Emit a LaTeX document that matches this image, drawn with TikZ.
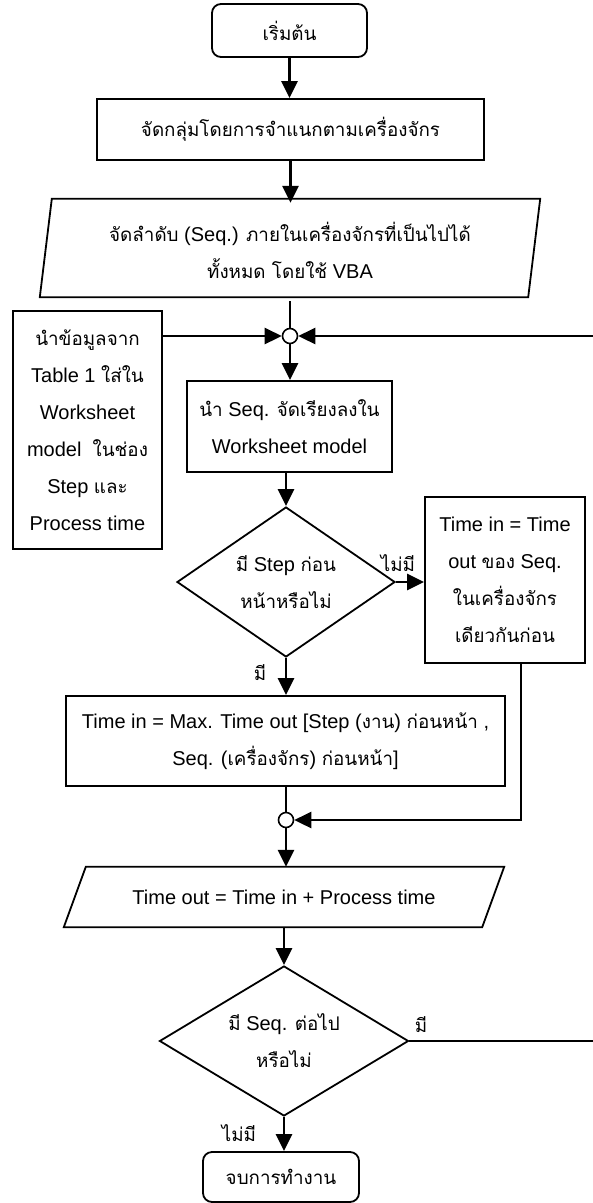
\documentclass[tikz,border=0pt]{standalone}
\usepackage{fontspec}
\setmainfont{Liberation Sans}
\newfontfamily\thaifont[Script=Thai,Scale=0.94]{Loma}
\newcommand\thx[1]{{\thaifont #1}}
\usetikzlibrary{arrows.meta,shapes.geometric,calc}
\begin{document}
\begin{tikzpicture}[x=1pt,y=-1pt,
  txt/.style={align=center,font=\fontsize{20}{37}\selectfont},
  box/.style={txt,draw,line width=1.8pt,inner sep=0pt},
  roundbox/.style={box,rounded corners=9pt},
  plain/.style={txt,inner sep=0pt},
  dia/.style={box,shape=diamond,aspect=1.45},
  junction/.style={draw,circle,fill=white,line width=1.6pt,minimum size=15pt,inner sep=0pt},
  conn/.style={line width=2.6pt,-{Triangle[length=17pt,width=16pt]}},
  line/.style={line width=2.4pt},
  lbl/.style={txt,inner sep=0pt}]
\useasboundingbox (0,0) rectangle (593,1203);

\node[roundbox,minimum width=155pt,minimum height=53pt] (start) at (289.5,30.5) {\thx{เริ่มต้น}};
\node[box,minimum width=387pt,minimum height=61pt] (group) at (290.5,129.5) {\thx{จัดกลุ่มโดยการจำแนกตามเครื่องจักร}};
\node[plain,minimum width=500pt,minimum height=98pt] (par1) at (290,250)
  {\thx{จัดลำดับ} (Seq.) \thx{ภายในเครื่องจักรที่เป็นไปได้}\\\thx{ทั้งหมด โดยใช้} VBA};
\draw[line width=1.8pt] ($(par1.north west)+(12,-2)$) -- ($(par1.north east)+(0,-2)$) -- ($(par1.south east)+(-12,-2)$) -- ($(par1.south west)+(0,-2)$) -- cycle;

\node[junction] (c1) at (290,336) {};
\node[box,minimum width=149pt,minimum height=238pt] (left) at (87.5,430)
  {\thx{นำข้อมูลจาก}\\Table 1 \thx{ใส่ใน}\\Worksheet\\model\ \ \thx{ในช่อง}\\Step \thx{และ}\\Process time};
\node[box,minimum width=205pt,minimum height=91pt] (box3) at (289.5,426.5)
  {\thx{นำ} Seq. \thx{จัดเรียงลงใน}\\Worksheet model};
\node[dia,minimum width=218pt,minimum height=150pt] (d1) at (286,582)
  {\thx{มี} Step \thx{ก่อน}\\\thx{หน้าหรือไม่}};
\node[box,minimum width=160pt,minimum height=166pt] (right) at (505,580)
  {Time in = Time\\out \thx{ของ} Seq.\\\thx{ในเครื่องจักร}\\\thx{เดียวกันก่อน}};
\node[box,minimum width=439pt,minimum height=90pt] (box4) at (285.5,741)
  {Time in = Max. Time out [Step (\thx{งาน}) \thx{ก่อนหน้า} ,\\Seq. (\thx{เครื่องจักร}) \thx{ก่อนหน้า}]};
\node[junction] (c2) at (286,820) {};
\node[plain,minimum width=440pt,minimum height=60pt] (par2) at (284,897)
  {Time out = Time in + Process time};
\draw[line width=1.8pt] ($(par2.north west)+(22,0)$) -- (par2.north east) -- ($(par2.south east)+(-22,0)$) -- (par2.south west) -- cycle;
\node[dia,aspect=1.66,minimum width=249pt,minimum height=150pt] (d2) at (284,1041)
  {\thx{มี} Seq. \thx{ต่อไป}\\\thx{หรือไม่}};
\node[roundbox,minimum width=156pt,minimum height=50pt] (end) at (281,1177) {\thx{จบการทำงาน}};

\coordinate (redge) at (598,0);
\coordinate (rb) at ($(right.south west)+(97,0)$);

\draw[conn] (start.south) -- (start.south |- group.north);
\draw[conn] (group.south) -- ([yshift=-2pt]group.south |- par1.north);
\draw[line] ([yshift=-2pt]par1.south) -- (c1.north);
\draw[conn] (left.east |- c1) -- (c1.west);
\draw[conn] (d2.east) -- (d2.east -| redge) |- (c1.east);
\draw[conn] (c1.south) -- (c1.south |- box3.north);
\draw[conn] (box3.south -| d1.north) -- (d1.north);
\draw[conn] (d1.east) -- (d1.east -| right.west);
\draw[conn] (d1.south) -- (d1.south |- box4.north);
\draw[line] (box4.south -| c2.north) -- (c2.north);
\draw[conn] (rb) |- (c2.east);
\draw[conn] (c2.south) -- (c2.south |- par2.north);
\draw[conn] (par2.south) -- (d2.north);
\draw[conn] (d2.south) -- (d2.south |- end.north);

\node[lbl] (l1) at (398,563) {\thx{ไม่มี}};
\node[lbl] (l2) at (260,673) {\thx{มี}};
\node[lbl] (l3) at (421,1025) {\thx{มี}};
\node[lbl] (l4) at (239,1133) {\thx{ไม่มี}};
\end{tikzpicture}
\end{document}
